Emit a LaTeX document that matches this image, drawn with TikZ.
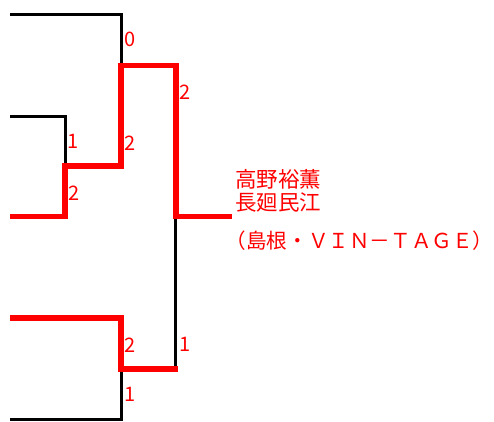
\documentclass[tikz,border=0pt]{standalone}
\usepackage{fontspec}
\newfontfamily\jpfont{Noto Sans CJK JP}
\begin{document}
\begin{tikzpicture}[x=1pt, y=-1pt, loseStyle/.style={draw=black, line width=3pt}, winStyle/.style={draw=red, line width=5.5pt}, scoreStyle/.style={text=red, inner sep=0pt, font=\jpfont\fontsize{20}{20}\selectfont}, nameStyle/.style={text=red, inner sep=0pt, anchor=west, font=\jpfont\fontsize{21.5}{21.5}\selectfont}]
    \useasboundingbox (0,0) rectangle (494,421);

    \coordinate (team1) at ( 10, 14.5);
    \coordinate (r1_a)  at (121, 14.5);
    \coordinate (team2) at ( 10,116);
    \coordinate (m1_a)  at ( 65,116);
    \coordinate (team3) at ( 10,216.5);
    \coordinate (m1_b)  at ( 65,216.5);
    \coordinate (m1)    at ( 65,166);
    \coordinate (r1_b)  at (121,166);
    \coordinate (r1)    at (121, 65.5);
    \coordinate (f_a)   at (176, 65.5);
    \coordinate (f)     at (176,216.5);
    \coordinate (win)   at (232,216.5);

    \coordinate (team4) at ( 10,318);
    \coordinate (r2_a)  at (121,318);
    \coordinate (team5) at ( 10,419);
    \coordinate (r2_b)  at (121,419);
    \coordinate (r2)    at (121,369);
    \coordinate (f_b)   at (177.5,369);

    \draw[loseStyle] (team1) -- (r1_a) -- (r1);
    \draw[loseStyle] (team2) -- (m1_a) -- (m1);
    \draw[loseStyle] (team5) -- (r2_b) -- (r2);
    \draw[loseStyle] ([xshift=-0.5pt]f) -- ([xshift=-0.5pt]f |- f_b);

    \draw[winStyle] (team3) -- (m1_b) -- (m1) -- (r1_b) -- (r1) -- (f_a) -- (f) -- (win);
    \draw[winStyle] (team4) -- (r2_a) -- (r2) -- (f_b);

    \node[scoreStyle] (s_r1a) at (130, 39) {0};
    \node[scoreStyle] (s_m1a) at ( 73,141) {1};
    \node[scoreStyle] (s_m1b) at ( 74,193) {2};
    \node[scoreStyle] (s_r1b) at (130,143) {2};
    \node[scoreStyle] (s_fa)  at (185, 92) {2};
    \node[scoreStyle] (s_r2a) at (130,345) {2};
    \node[scoreStyle] (s_r2b) at (130,394) {1};
    \node[scoreStyle] (s_fb)  at (185,344) {1};

    \node[nameStyle] (name1) at (235,179) {高野裕薫};
    \node[nameStyle] (name2) at (235,202) {長廻民江};
    \node[nameStyle, font=\jpfont\fontsize{20.6}{20.6}\selectfont] (club) at (225.5,241) {（島根・ＶＩＮ－ＴＡＧＥ）};
\end{tikzpicture}
\end{document}
